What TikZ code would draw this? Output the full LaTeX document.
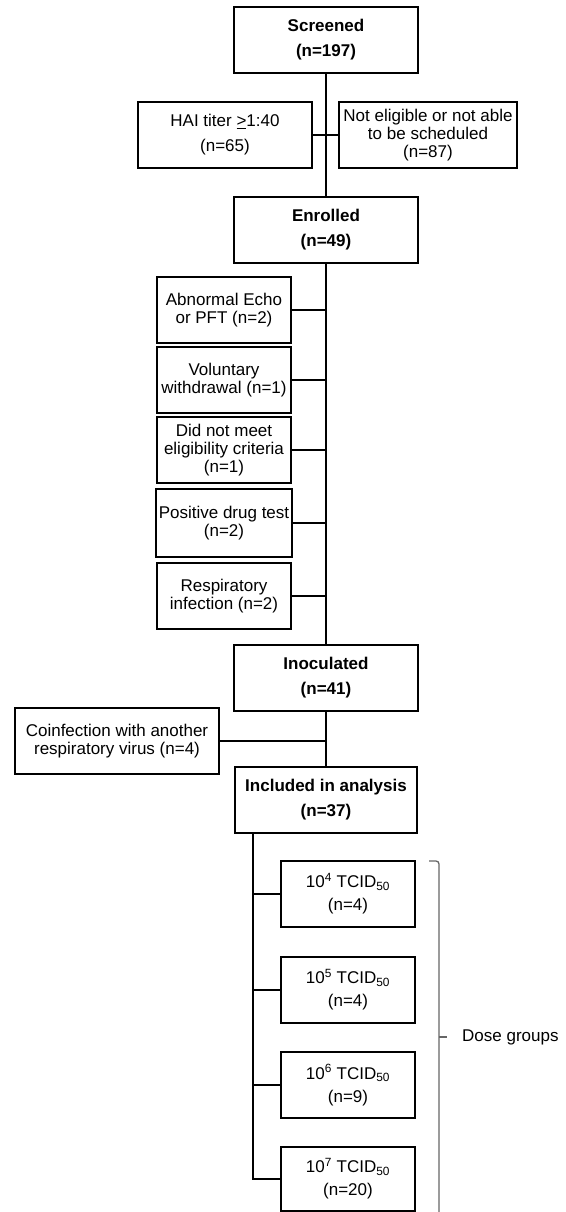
\documentclass[tikz,border=0pt]{standalone}
\usepackage{fontspec}
\setmainfont{Liberation Sans}
\begin{document}
\begin{tikzpicture}[x=1pt,y=-1pt,
  box/.style={draw=black,line width=2pt,inner sep=0pt,align=center,
    font=\fontsize{17}{18}\selectfont},
  conn/.style={draw=black,line width=2pt},
  brk/.style={draw=black!60,line width=1.3pt}]
\useasboundingbox[fill=white] (0,0) rectangle (565,1212);
% main boxes
\node[box,minimum width=184pt,minimum height=66pt] (scr) at (326,40) {\textbf{Screened}\\[7pt]\textbf{(n=197)}};
\node[box,minimum width=174pt,minimum height=66pt] (hai) at (225,135) {HAI titer \underline{>}1:40\\[7pt](n=65)};
\node[box,minimum width=178pt,minimum height=66pt] (ne) at (428,135) {Not eligible or not able\\to be scheduled\\(n=87)};
\node[box,minimum width=184pt,minimum height=66pt] (enr) at (326,230) {\textbf{Enrolled}\\[7pt]\textbf{(n=49)}};
\node[box,minimum width=134pt,minimum height=66pt] (ab) at (224,310) {Abnormal Echo\\or PFT (n=2)};
\node[box,minimum width=134pt,minimum height=66pt] (vol) at (224,380) {Voluntary\\withdrawal (n=1)};
\node[box,minimum width=134pt,minimum height=66pt] (did) at (224,450) {Did not meet\\eligibility criteria\\(n=1)};
\node[box,minimum width=136pt,minimum height=68pt] (pos) at (224,523) {Positive drug test\\(n=2)};
\node[box,minimum width=134pt,minimum height=66pt] (resp) at (224,596) {Respiratory\\infection (n=2)};
\node[box,minimum width=184pt,minimum height=66pt] (ino) at (326,678) {\textbf{Inoculated}\\[7pt]\textbf{(n=41)}};
\node[box,minimum width=204pt,minimum height=66pt] (coi) at (117,741) {Coinfection with another\\respiratory virus (n=4)};
\node[box,minimum width=182pt,minimum height=66pt] (inc) at (326,800) {\textbf{Included in analysis}\\[7pt]\textbf{(n=37)}};
\node[box,minimum width=134pt,minimum height=66pt] (d4) at (348,894) {10\textsuperscript{4} TCID\textsubscript{50}\\[5pt](n=4)};
\node[box,minimum width=134pt,minimum height=66pt] (d5) at (348,990) {10\textsuperscript{5} TCID\textsubscript{50}\\[5pt](n=4)};
\node[box,minimum width=134pt,minimum height=66pt] (d6) at (348,1085) {10\textsuperscript{6} TCID\textsubscript{50}\\[5pt](n=9)};
\node[box,minimum width=134pt,minimum height=64pt] (d7) at (348,1179) {10\textsuperscript{7} TCID\textsubscript{50}\\[5pt](n=20)};
% spine connectors
\draw[conn] (scr.south) -- (enr.north);
\draw[conn] (hai.east) -- (ne.west);
\draw[conn] (enr.south) -- (ino.north);
\foreach \n in {ab,vol,did,pos,resp}{\draw[conn] (\n.east) -- (\n.east -| enr.south);}
\draw[conn] (ino.south) -- (inc.north);
\draw[conn] (coi.east) -- (coi.east -| ino.south);
% dose connectors
\coordinate (j) at ([xshift=19pt]inc.south west);
\draw[conn] (j) |- (d7.west);
\foreach \n in {d4,d5,d6}{\draw[conn] (\n.west) -- (\n.west -| j);}
% bracket
\coordinate (bt) at (429,861);
\coordinate (bm) at (439,1037);
\coordinate (bb) at (439,1214);
\draw[brk,rounded corners=3pt] (bt) -- (bt -| bm) -- (bb);
\coordinate (bmt) at (447,1037);
\draw[brk] (bm) -- (bmt);
\node[anchor=west,inner sep=0pt,font=\fontsize{17}{18}\selectfont] (dg) at (462,1037) {Dose groups};
\end{tikzpicture}
\end{document}
